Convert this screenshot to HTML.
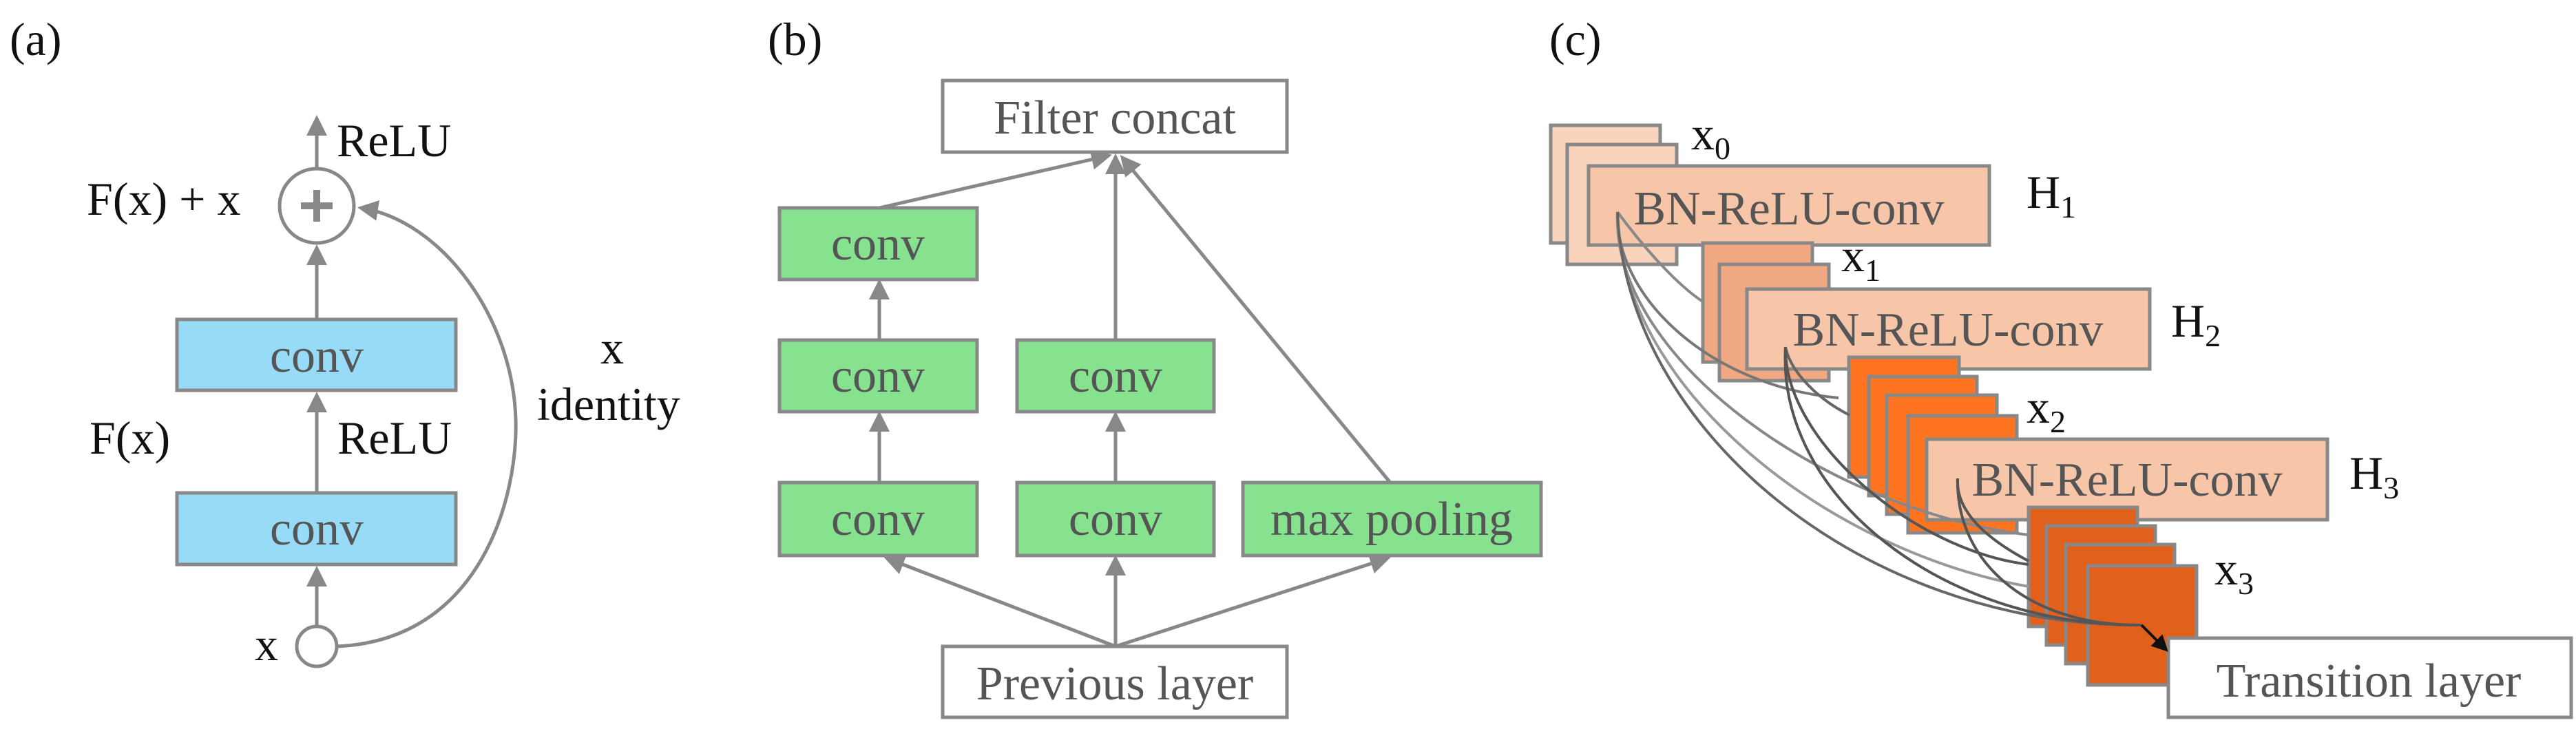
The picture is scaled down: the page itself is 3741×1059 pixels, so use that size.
<!DOCTYPE html>
<html><head><meta charset="utf-8"><style>
html,body{margin:0;padding:0;background:#fff;}
svg{display:block;}
svg text{font-family:"Liberation Serif","DejaVu Serif","Noto Serif CJK SC",serif;}
</style></head><body>
<svg width="3741" height="1059" viewBox="0 0 3741 1059" xmlns="http://www.w3.org/2000/svg" font-family="'Liberation Serif', 'DejaVu Serif', 'Noto Serif CJK SC', serif">
<defs>
<marker id="ag" markerWidth="6" markerHeight="6" refX="5" refY="3" orient="auto" markerUnits="strokeWidth"><path d="M0,0 L6,3 L0,6 z" fill="#888"/></marker>
<marker id="ak" markerWidth="6" markerHeight="6" refX="5" refY="3" orient="auto" markerUnits="strokeWidth"><path d="M0,0 L6,3 L0,6 z" fill="#111"/></marker>
</defs>
<g font-size="68" fill="#111">
<text x="14" y="80">(a)</text>
<text x="1115" y="80">(b)</text>
<text x="2250" y="80">(c)</text>
</g>

<!-- Panel a -->
<g stroke="#888" stroke-width="5" fill="none">
<line x1="460" y1="245" x2="460" y2="172" marker-end="url(#ag)"/>
<line x1="460" y1="464" x2="460" y2="360" marker-end="url(#ag)"/>
<line x1="460" y1="716" x2="460" y2="574" marker-end="url(#ag)"/>
<line x1="460" y1="910" x2="460" y2="827" marker-end="url(#ag)"/>
<path d="M489,939 C700,930 752,720 749,610 C745,460 640,320 524,302" marker-end="url(#ag)"/>
<circle cx="460" cy="299" r="54" fill="#fff"/>
<circle cx="460" cy="939" r="29" fill="#fff"/>
</g>
<g fill="#888"><rect x="437" y="294" width="46" height="10"/><rect x="455" y="276" width="10" height="46"/></g>
<rect x="257" y="464" width="405" height="103" fill="#97DBF6" stroke="#888" stroke-width="5"/>
<rect x="257" y="716" width="405" height="104" fill="#97DBF6" stroke="#888" stroke-width="5"/>
<g font-size="70" fill="#555" text-anchor="middle">
<text x="460" y="540">conv</text>
<text x="460" y="791">conv</text>
</g>
<g font-size="68" fill="#111">
<text x="489" y="227">ReLU</text>
<text x="126" y="312">F(x) + x</text>
<text x="130" y="659">F(x)</text>
<text x="490" y="659">ReLU</text>
<text x="872" y="528">x</text>
<text x="780" y="610">identity</text>
<text x="370" y="959">x</text>
</g>

<!-- Panel b -->
<g stroke="#888" stroke-width="5" fill="none">
<line x1="1277" y1="302" x2="1610" y2="226" marker-end="url(#ag)"/>
<line x1="1620" y1="494" x2="1620" y2="228" marker-end="url(#ag)"/>
<line x1="2019" y1="701" x2="1630" y2="229" marker-end="url(#ag)"/>
<line x1="1277" y1="494" x2="1277" y2="410" marker-end="url(#ag)"/>
<line x1="1277" y1="701" x2="1277" y2="602" marker-end="url(#ag)"/>
<line x1="1620" y1="701" x2="1620" y2="602" marker-end="url(#ag)"/>
<line x1="1620" y1="939" x2="1288" y2="811" marker-end="url(#ag)"/>
<line x1="1620" y1="939" x2="1620" y2="811" marker-end="url(#ag)"/>
<line x1="1620" y1="939" x2="2015" y2="811" marker-end="url(#ag)"/>
</g>
<g stroke="#888" stroke-width="5">
<rect x="1369" y="117" width="500" height="104" fill="#fff"/>
<rect x="1369" y="939" width="500" height="103" fill="#fff"/>
<g fill="#86E28F">
<rect x="1132" y="302" width="287" height="104"/>
<rect x="1132" y="494" width="287" height="104"/>
<rect x="1132" y="701" width="287" height="106"/>
<rect x="1477" y="494" width="286" height="104"/>
<rect x="1477" y="701" width="286" height="106"/>
<rect x="1805" y="701" width="433" height="106"/>
</g>
</g>
<g font-size="70" fill="#555" text-anchor="middle">
<text x="1619" y="194">Filter concat</text>
<text x="1275" y="377">conv</text>
<text x="1275" y="569">conv</text>
<text x="1275" y="777">conv</text>
<text x="1620" y="569">conv</text>
<text x="1620" y="777">conv</text>
<text x="2021" y="777">max pooling</text>
<text x="1619" y="1016">Previous layer</text>
</g>

<!-- Panel c -->
<g stroke="#888" stroke-width="5">
<rect x="2252" y="182" width="159" height="171" fill="#FAD3BD"/>
<rect x="2276" y="210" width="159" height="174" fill="#FAD3BD"/>
<rect x="2307" y="241" width="582" height="115" fill="#F7C6A9"/>
<rect x="2473" y="353" width="159" height="173" fill="#F0A882"/>
<rect x="2497" y="384" width="159" height="169" fill="#F0A882"/>
<rect x="2537" y="420" width="585" height="116" fill="#F7C6A9"/>
<rect x="2685" y="519" width="160" height="174" fill="#FF7420"/>
<rect x="2714" y="547" width="157" height="173" fill="#FF7420"/>
<rect x="2740" y="574" width="160" height="173" fill="#FF7420"/>
<rect x="2771" y="604" width="158" height="170" fill="#FF7420"/>
<rect x="2798" y="638" width="582" height="117" fill="#F7C6A9"/>
<rect x="2946" y="737" width="158" height="173" fill="#E0601C"/>
<rect x="2972" y="764" width="158" height="173" fill="#E0601C"/>
<rect x="3000" y="791" width="158" height="173" fill="#E0601C"/>
<rect x="3032" y="822" width="158" height="173" fill="#E0601C"/>
<rect x="3149" y="927" width="585" height="115" fill="#fff"/>
</g>
<g fill="none" stroke-width="4">
<path d="M2349,308 C2380,350 2430,410 2474,439" stroke="#888"/>
<path d="M2349,308 C2345,430 2480,560 2670,578" stroke="#777"/>
<path d="M2349,308 C2340,520 2650,740 2946,777" stroke="#888"/>
<path d="M2349,308 C2350,560 2650,800 2946,852" stroke="#999"/>
<path d="M2349,308 C2360,620 2700,910 3110,908" stroke="#666"/>
<path d="M2593,504 C2600,540 2640,580 2686,603" stroke="#666"/>
<path d="M2593,504 C2590,640 2780,800 2946,820" stroke="#555"/>
<path d="M2593,504 C2580,720 2820,910 3110,908" stroke="#555"/>
<path d="M2843,695 C2840,740 2880,780 2946,815" stroke="#555"/>
<path d="M2843,695 C2840,820 2950,910 3110,908" stroke="#555"/>
<line x1="3110" y1="908" x2="3146" y2="944" stroke="#111" marker-end="url(#ak)"/>
</g>
<g font-size="70" fill="#555" text-anchor="middle">
<text x="2598" y="326">BN-ReLU-conv</text>
<text x="2829" y="502">BN-ReLU-conv</text>
<text x="3089" y="720">BN-ReLU-conv</text>
<text x="3440" y="1012">Transition layer</text>
</g>
<g font-size="68" fill="#111">
<text x="2456" y="217">x<tspan font-size="46" dy="14">0</tspan></text>
<text x="2943" y="302">H<tspan font-size="46" dy="14">1</tspan></text>
<text x="2674" y="394">x<tspan font-size="46" dy="14">1</tspan></text>
<text x="3153" y="489">H<tspan font-size="46" dy="14">2</tspan></text>
<text x="2943" y="614">x<tspan font-size="46" dy="14">2</tspan></text>
<text x="3412" y="710">H<tspan font-size="46" dy="14">3</tspan></text>
<text x="3216" y="849">x<tspan font-size="46" dy="14">3</tspan></text>
</g>
</svg>
</body></html>
